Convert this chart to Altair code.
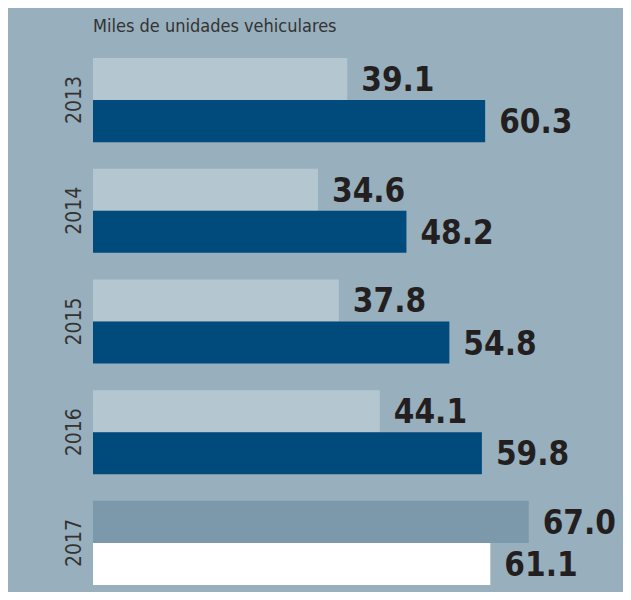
import altair as alt
import pandas as pd

# Data
years = ["2013", "2014", "2015", "2016", "2017"]
serie_sup = [39.1, 34.6, 37.8, 44.1, 67.0]   # upper bar of each year
serie_inf = [60.3, 48.2, 54.8, 59.8, 61.1]   # lower bar of each year
tono_sup = ["claro", "claro", "claro", "claro", "gris"]
tono_inf = ["oscuro", "oscuro", "oscuro", "oscuro", "blanco"]
title_text = "Miles de unidades vehiculares"

rows = []
for i, y in enumerate(years):
    rows.append({"year": y, "serie": "a", "valor": serie_sup[i], "tono": tono_sup[i]})
    rows.append({"year": y, "serie": "b", "valor": serie_inf[i], "tono": tono_inf[i]})
df = pd.DataFrame(rows)
df_years = pd.DataFrame({"year": years})
df_title = pd.DataFrame({"t": [title_text]})

BG = "#98afbd"
FONT = "'Liberation Sans Narrow', 'DejaVu Sans Condensed', 'DejaVu Sans', sans-serif"
tone_domain = ["claro", "oscuro", "gris", "blanco"]
tone_range = ["#b4c7d1", "#004a7c", "#7b99aa", "#ffffff"]

y_enc = alt.Y("year:N", sort=years, scale=alt.Scale(paddingInner=0.24, paddingOuter=0), axis=None)
yoff_enc = alt.YOffset("serie:N", scale=alt.Scale(paddingInner=0, paddingOuter=0))
x_enc = alt.X("valor:Q", scale=alt.Scale(domain=[0, 81.5], nice=False, zero=True), axis=None)

circle = alt.Chart(pd.DataFrame({"d": [0]})).mark_circle(
    color="#6dcff6", opacity=1
).encode(x=alt.value(-209), y=alt.value(100), size=alt.value(54739))

title = alt.Chart(df_title).mark_text(
    align="left", baseline="alphabetic",
    font=FONT, fontSize=18, color="#333333",
).encode(x=alt.value(0), y=alt.value(-26), text="t:N")

bars = alt.Chart(df).mark_bar().encode(
    y=y_enc,
    yOffset=yoff_enc,
    x=x_enc,
    color=alt.Color("tono:N", scale=alt.Scale(domain=tone_domain, range=tone_range), legend=None),
)

labels = alt.Chart(df).mark_text(
    align="left", baseline="middle", dx=14, dy=2,
    font=FONT, fontWeight="bold", fontSize=33, color="#231f20",
).encode(
    y=y_enc,
    yOffset=yoff_enc,
    x=x_enc,
    text=alt.Text("valor:Q", format=".1f"),
)

year_labels = alt.Chart(df_years).mark_text(
    angle=270, align="center", baseline="middle",
    font=FONT, fontSize=21, color="#333333",
).encode(
    y=y_enc,
    x=alt.value(-18),
    text="year:N",
)

chart = alt.layer(circle, title, bars, labels, year_labels).properties(
    width=530,
    height=527,
    autosize="none",
    padding={"left": 85, "top": 50, "right": 0, "bottom": 7},
).configure(background=BG).configure_view(stroke=None)

chart.save("out.html", embed_options={"renderer": "svg", "actions": False})
